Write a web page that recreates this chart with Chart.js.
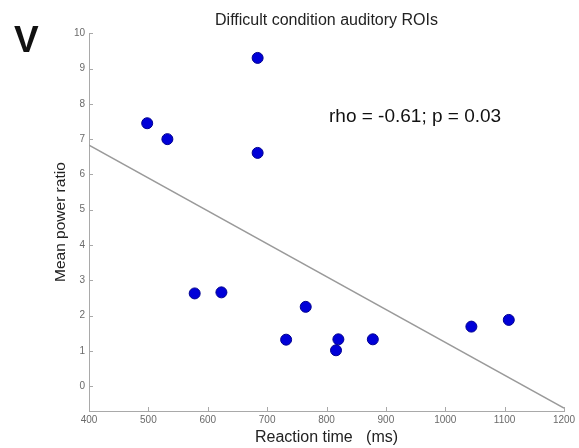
<!DOCTYPE html>
<html>
<head>
<meta charset="utf-8">
<script src="https://cdn.jsdelivr.net/npm/chart.js@4"></script>
<style>
  html, body { margin: 0; padding: 0; background: #fff; }
  #wrap { width: 579px; height: 448px; }
</style>
</head>
<body>
<div id="wrap"><canvas id="grafico"></canvas></div>
<script>
// dados
const tempoReacao = [498, 532, 684, 684, 578, 623, 732, 765, 820, 816, 878, 1044, 1107];
const razaoPotencia = [7.45, 7.0, 9.3, 6.61, 2.63, 2.66, 1.32, 2.25, 1.33, 1.02, 1.33, 1.69, 1.88];

// reta de regressão (extremos)
const retaX = [400, 1200];
const retaY = [6.83, -0.62];

// marcas dos eixos
const ticksX = [400, 500, 600, 700, 800, 900, 1000, 1100, 1200];
const ticksY = [0, 1, 2, 3, 4, 5, 6, 7, 8, 9, 10];

const fonte = "'Liberation Sans', Arial, sans-serif";
const corEixo = '#a9a9a9';

// desenha textos extras e as marcas internas dos eixos
const extras = {
    id: 'extras',
    afterDatasetsDraw(chart) {
        const c = chart.ctx;
        const area = chart.chartArea;
        const sx = chart.scales.x;
        const sy = chart.scales.y;
        c.save();
        c.strokeStyle = corEixo;
        c.lineWidth = 1;
        c.beginPath();
        ticksX.forEach(v => {
            const px = Math.round(sx.getPixelForValue(v)) + 0.5;
            c.moveTo(px, area.bottom);
            c.lineTo(px, area.bottom - 4);
        });
        ticksY.forEach(v => {
            const py = Math.round(sy.getPixelForValue(v)) + 0.5;
            c.moveTo(area.left, py);
            c.lineTo(area.left + 4, py);
        });
        c.stroke();

        c.fillStyle = '#111';
        c.textBaseline = 'middle';
        c.textAlign = 'left';
        c.font = '19px ' + fonte;
        c.fillText('rho = -0.61; p = 0.03', 329, 117);

        c.textBaseline = 'alphabetic';
        c.font = 'bold 37px ' + fonte;
        c.fillText('V', 14, 52);
        c.restore();
    }
};

const ctx = document.getElementById('grafico');

new Chart(ctx, {
    data: {
        datasets: [
            {
                type: 'scatter',
                data: tempoReacao.map((x, i) => ({ x: x, y: razaoPotencia[i] })),
                backgroundColor: '#0000d8',
                borderColor: '#000090',
                borderWidth: 1,
                pointRadius: 5.5,
                pointHoverRadius: 5.5
            },
            {
                type: 'line',
                data: retaX.map((x, i) => ({ x: x, y: retaY[i] })),
                borderColor: '#9a9a9a',
                borderWidth: 1.5,
                pointRadius: 0,
                fill: false
            }
        ]
    },
    options: {
        responsive: true,
        maintainAspectRatio: false,
        animation: false,
        events: [],
        layout: { padding: { left: 40, right: 15, top: 0, bottom: 0 } },
        plugins: {
            legend: { display: false },
            tooltip: { enabled: false },
            title: {
                display: true,
                fullSize: false,
                text: 'Difficult condition auditory ROIs',
                color: '#222',
                font: { family: fonte, size: 16, weight: 'normal' },
                padding: { top: 11, bottom: 3 }
            }
        },
        scales: {
            x: {
                type: 'linear',
                min: 400,
                max: 1200,
                afterFit: s => { s.height = 37; },
                afterBuildTicks: s => { s.ticks = ticksX.map(v => ({ value: v })); },
                grid: { display: false, drawTicks: false },
                border: { display: true, color: corEixo, width: 1 },
                ticks: {
                    color: '#6a6a6a',
                    font: { family: fonte, size: 10 },
                    padding: 3,
                    maxRotation: 0,
                    autoSkip: false,
                    callback: v => String(v)
                },
                title: {
                    display: true,
                    text: 'Reaction time   (ms)',
                    color: '#222',
                    font: { family: fonte, size: 16 },
                    padding: { top: 0, bottom: 1 }
                }
            },
            y: {
                type: 'linear',
                min: -0.7,
                max: 10,
                afterFit: s => { s.width = 49; },
                afterBuildTicks: s => { s.ticks = ticksY.map(v => ({ value: v })); },
                grid: { display: false, drawTicks: false },
                border: { display: true, color: corEixo, width: 1 },
                ticks: {
                    color: '#6a6a6a',
                    font: { family: fonte, size: 10 },
                    padding: 4,
                    autoSkip: false,
                    callback: v => String(v)
                },
                title: {
                    display: true,
                    text: 'Mean power ratio',
                    color: '#222',
                    font: { family: fonte, size: 15.5 },
                    padding: { top: 11, bottom: 0 }
                }
            }
        }
    },
    plugins: [extras]
});
</script>
</body>
</html>
